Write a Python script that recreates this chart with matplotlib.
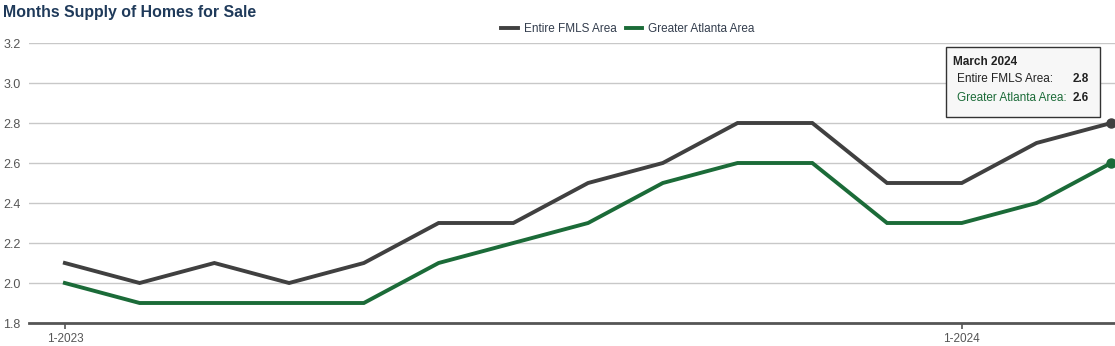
import matplotlib
matplotlib.use("Agg")
import matplotlib.pyplot as plt
from matplotlib.patches import FancyBboxPatch

months = ["1-2023", "2-2023", "3-2023", "4-2023", "5-2023", "6-2023", "7-2023", "8-2023",
          "9-2023", "10-2023", "11-2023", "12-2023", "1-2024", "2-2024", "3-2024"]
fmls = [2.1, 2.0, 2.1, 2.0, 2.1, 2.3, 2.3, 2.5, 2.6, 2.8, 2.8, 2.5, 2.5, 2.7, 2.8]
atlanta = [2.0, 1.9, 1.9, 1.9, 1.9, 2.1, 2.2, 2.3, 2.5, 2.6, 2.6, 2.3, 2.3, 2.4, 2.6]
yticks = [1.8, 2.0, 2.2, 2.4, 2.6, 2.8, 3.0, 3.2]
xtick_labels = ["1-2023", "1-2024"]

plt.rcParams['font.family'] = ['Liberation Sans', 'DejaVu Sans']

c_fmls = "#404040"
c_atl = "#1b6b38"

fig = plt.figure(figsize=(11.15, 3.46), dpi=100)
ax = fig.add_axes([29/1115, 1-323/346, 1-29/1115, (323-43)/346])
x = list(range(len(months)))
ax.plot(x, fmls, color=c_fmls, lw=2.8, solid_joinstyle='miter', label="Entire FMLS Area", zorder=3)
ax.plot(x, atlanta, color=c_atl, lw=2.8, solid_joinstyle='miter', label="Greater Atlanta Area", zorder=3)
ax.plot([x[-1]], [fmls[-1]], 'o', color=c_fmls, ms=6.5, zorder=4, clip_on=False)
ax.plot([x[-1]], [atlanta[-1]], 'o', color=c_atl, ms=6.5, zorder=4, clip_on=False)

ax.set_xlim(-0.48, 14.05)
ax.set_ylim(1.8, 3.2)
ax.set_yticks(yticks)
ax.set_yticklabels([f"{v:.1f}" for v in yticks])
ax.set_xticks([months.index(l) for l in xtick_labels])
ax.set_xticklabels(xtick_labels)
ax.grid(axis='y', color="#c8c8c8", lw=1)
ax.set_axisbelow(True)
for s in ['top', 'right', 'left']:
    ax.spines[s].set_visible(False)
ax.spines['bottom'].set_color("#555555")
ax.spines['bottom'].set_linewidth(2)
ax.spines['bottom'].set_zorder(2)
ax.tick_params(axis='y', length=0, pad=6, labelsize=9, labelcolor="#555555")
ax.tick_params(axis='x', length=4, width=1.2, color="#555555", pad=3, labelsize=8.5, labelcolor="#555555")

fig.text(3/1115, 1-12/346, "Months Supply of Homes for Sale", fontsize=11.4, fontweight='bold',
         color="#1f3a5a", va='center', ha='left')

leg = fig.legend(loc='center', bbox_to_anchor=(628/1115, 1-29/346), ncol=2, frameon=False,
                 fontsize=8.5, handlelength=1.4, handletextpad=0.5, columnspacing=0.8)
for t in leg.get_texts():
    t.set_color("#333d4d")

# tooltip
bx0, by0, bx1, by1 = 946, 47, 1100, 117
box = FancyBboxPatch((bx0/1115, 1-by1/346), (bx1-bx0)/1115, (by1-by0)/346,
                     boxstyle="square,pad=0", transform=fig.transFigure,
                     facecolor="#f7f7f7", edgecolor="#333333", lw=1, zorder=10)
fig.add_artist(box)
fig.text(953/1115, 1-62/346, "March 2024", fontsize=8.5, fontweight='bold', color="#222222", va='center', zorder=11)
fig.text(957/1115, 1-79/346, "Entire FMLS Area:", fontsize=8.5, color="#222222", va='center', zorder=11)
fig.text(1089/1115, 1-79/346, f"{fmls[-1]:.1f}", fontsize=8.5, fontweight='bold', color="#222222", va='center', ha='right', zorder=11)
fig.text(957/1115, 1-98/346, "Greater Atlanta Area:", fontsize=8.5, color=c_atl, va='center', zorder=11)
fig.text(1089/1115, 1-98/346, f"{atlanta[-1]:.1f}", fontsize=8.5, fontweight='bold', color="#222222", va='center', ha='right', zorder=11)

fig.savefig("out.png", dpi=100)
